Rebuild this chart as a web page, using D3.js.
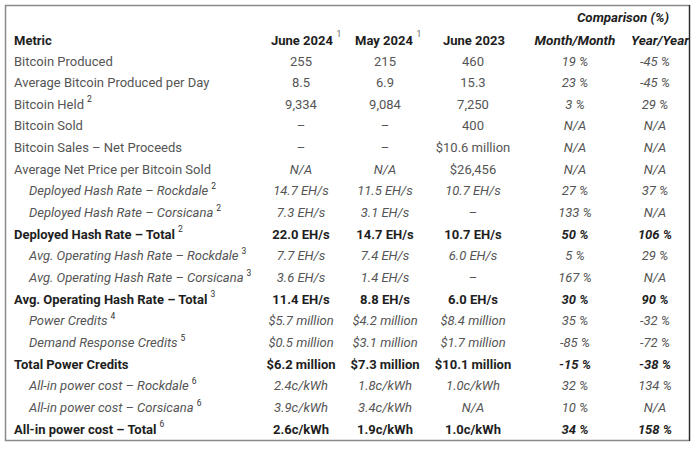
<!DOCTYPE html>
<html>
<head>
<meta charset="utf-8">
<script src="https://cdn.jsdelivr.net/npm/d3@7/dist/d3.min.js"></script>
<style>
  html, body { margin: 0; padding: 0; background: #fff; }
  svg text { font-family: Roboto, "Noto Sans", sans-serif; }
</style>
</head>
<body>
<svg id="chart" width="698" height="450"></svg>
<script>
// ---- data ----
const columns = ["June 2024", "May 2024", "June 2023", "Month/Month", "Year/Year"];
const columnNotes = ["1", "1", "", "", ""];
const groupLabel = "Comparison (%)";
const metrics = [
  "Bitcoin Produced",
  "Average Bitcoin Produced per Day",
  "Bitcoin Held",
  "Bitcoin Sold",
  "Bitcoin Sales – Net Proceeds",
  "Average Net Price per Bitcoin Sold",
  "Deployed Hash Rate – Rockdale",
  "Deployed Hash Rate – Corsicana",
  "Deployed Hash Rate – Total",
  "Avg. Operating Hash Rate – Rockdale",
  "Avg. Operating Hash Rate – Corsicana",
  "Avg. Operating Hash Rate – Total",
  "Power Credits",
  "Demand Response Credits",
  "Total Power Credits",
  "All-in power cost – Rockdale",
  "All-in power cost – Corsicana",
  "All-in power cost – Total"
];
const metricNotes = ["", "", "2", "", "", "", "2", "2", "2", "3", "3", "3", "4", "5", "", "6", "6", "6"];
// row kind: plain / sub (component) / total
const rowKind = ["plain","plain","plain","plain","plain","plain","sub","sub","total","sub","sub","total","sub","sub","total","sub","sub","total"];
const june2024 = ["255","8.5","9,334","–","–","N/A","14.7 EH/s","7.3 EH/s","22.0 EH/s","7.7 EH/s","3.6 EH/s","11.4 EH/s","$5.7 million","$0.5 million","$6.2 million","2.4c/kWh","3.9c/kWh","2.6c/kWh"];
const may2024  = ["215","6.9","9,084","–","–","N/A","11.5 EH/s","3.1 EH/s","14.7 EH/s","7.4 EH/s","1.4 EH/s","8.8 EH/s","$4.2 million","$3.1 million","$7.3 million","1.8c/kWh","3.4c/kWh","1.9c/kWh"];
const june2023 = ["460","15.3","7,250","400","$10.6 million","$26,456","10.7 EH/s","–","10.7 EH/s","6.0 EH/s","–","6.0 EH/s","$8.4 million","$1.7 million","$10.1 million","1.0c/kWh","N/A","1.0c/kWh"];
const monthOverMonth = ["19 %","23 %","3 %","N/A","N/A","N/A","27 %","133 %","50 %","5 %","167 %","30 %","35 %","-85 %","-15 %","32 %","10 %","34 %"];
const yearOverYear   = ["-45 %","-45 %","29 %","N/A","N/A","N/A","37 %","N/A","106 %","29 %","N/A","90 %","-32 %","-72 %","-38 %","134 %","N/A","158 %"];
const series = [june2024, may2024, june2023, monthOverMonth, yearOverYear];

// ---- layout ----
const svg = d3.select("#chart");
const FS = 13;
const gray = "#555555", dark = "#1e1e1e";

const y = d3.scalePoint().domain(d3.range(metrics.length)).range([61, 429]);
const x = d3.scaleOrdinal().domain(columns).range([301, 385, 473, 575, 655]);
const xHead = d3.scaleOrdinal().domain(columns).range([302, 384, 474, 575, 660]);

// frame
svg.append("rect").attr("x", 5.5).attr("y", 5.5).attr("width", 684).attr("height", 435)
  .attr("fill", "#fff").attr("stroke", "#8a8a8a").attr("stroke-width", 1.5);
svg.append("line").attr("x1", 689.5).attr("x2", 689.5).attr("y1", 5).attr("y2", 441)
  .attr("stroke", "#2a2a2a").attr("stroke-width", 1.2);

svg.append("clipPath").attr("id", "clip").append("rect")
  .attr("x", 6).attr("y", 6).attr("width", 683).attr("height", 434);
const g = svg.append("g").attr("clip-path", "url(#clip)");

function addText(sel, txt, note, opts) {
  const t = sel.append("text")
    .attr("x", opts.x).attr("y", opts.y).attr("dy", "0.35em")
    .attr("text-anchor", opts.anchor || "start")
    .attr("font-size", opts.size || FS)
    .attr("font-weight", opts.bold ? 700 : 400)
    .attr("font-style", opts.italic ? "italic" : "normal")
    .attr("fill", opts.color);
  t.append("tspan").text(txt);
  if (note) {
    t.append("tspan").attr("dx", 3).attr("dy", "-0.75em").attr("font-size", 8.5)
      .attr("font-weight", 400).attr("font-style", "normal").attr("fill", "#333").text(note);
  }
  return t;
}

// group header
addText(g, groupLabel, "", { x: 623, y: 17, anchor: "middle", bold: true, italic: true, color: dark, size: 13.3 });
// column headers
addText(g, "Metric", "", { x: 14, y: 40, bold: true, color: dark });
columns.forEach((c, i) => {
  const italic = i >= 3;
  const t = addText(g, c, "", { x: xHead(c), y: 40, anchor: "middle", bold: true, italic, color: dark, size: italic ? 13.5 : 13 });
  if (columnNotes[i]) {
    const bb = t.node().getBBox();
    g.append("text").attr("x", bb.x + bb.width + 3).attr("y", 40).attr("dy", "-0.4em")
      .attr("font-size", 8.5).attr("fill", "#666").text(columnNotes[i]);
  }
});

// rows
metrics.forEach((m, r) => {
  const kind = rowKind[r];
  const total = kind === "total", sub = kind === "sub";
  addText(g, m, metricNotes[r], {
    x: sub ? 29 : 14, y: y(r), bold: total, italic: sub, color: total ? dark : gray
  });
  series.forEach((s, ci) => {
    const v = s[r];
    const pct = ci >= 3;
    const italic = pct ? true : (sub || v === "N/A");
    addText(g, v, "", {
      x: x(columns[ci]), y: y(r), anchor: "middle",
      bold: total, italic: italic && v !== "–", color: total ? dark : gray
    });
  });
});
</script>
</body>
</html>
